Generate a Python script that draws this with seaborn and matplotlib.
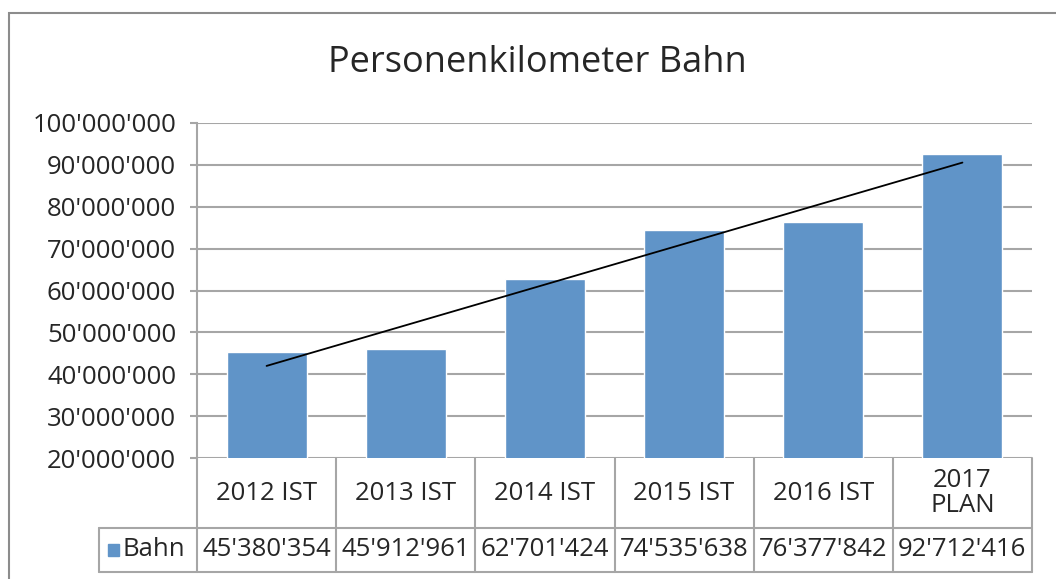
import numpy as np
import pandas as pd
import seaborn as sns
import matplotlib.pyplot as plt
from matplotlib.patches import Rectangle
import matplotlib.transforms as mtransforms

# Data
categories = ["2012 IST", "2013 IST", "2014 IST", "2015 IST", "2016 IST", "2017\nPLAN"]
bahn = [45380354, 45912961, 62701424, 74535638, 76377842, 92712416]
series_name = "Bahn"
yticks = [20000000, 30000000, 40000000, 50000000, 60000000, 70000000, 80000000, 90000000, 100000000]

bar_color = "#6094C8"
grid_color = "#A6A6A6"
fs = 18.5


def swiss(v):
    return f"{int(v):,}".replace(",", "'")


sns.set_theme(style="white")
plt.rcParams["font.family"] = ["Open Sans", "DejaVu Sans"]

df = pd.DataFrame({"cat": categories, "val": bahn})

fig = plt.figure(figsize=(10.56, 5.79), dpi=100)
ax = fig.add_axes([197 / 1056, 1 - 458 / 579, (1032 - 197) / 1056, (458 - 123) / 579])

sns.barplot(data=df, x="cat", y="val", color=bar_color, saturation=1, width=0.575, ax=ax, zorder=3)

# linear trendline
xs = np.arange(len(bahn))
k, d = np.polyfit(xs, bahn, 1)
ax.plot(xs, k * xs + d, color="black", lw=1.3, zorder=4)

ax.set_xlim(-0.5, len(categories) - 0.5)
ax.set_ylim(20000000, 100000000)
ax.set_yticks(yticks)
ax.set_yticklabels([swiss(t) for t in yticks], fontsize=fs)
ax.yaxis.grid(True, color=grid_color, lw=1.5)
ax.set_axisbelow(True)
ax.tick_params(axis="y", length=5, color=grid_color, width=1.5, pad=10, left=True)
ax.set_xticks([])
ax.set_xlabel("")
ax.set_ylabel("")
for s in ["top", "right", "bottom"]:
    ax.spines[s].set_visible(False)
ax.spines["left"].set_color(grid_color)
ax.spines["left"].set_linewidth(1.5)

# data table under the axis
tr = mtransforms.blended_transform_factory(ax.transData, ax.transAxes)
r1 = -70 / 335
r2 = -114 / 335
xl = -0.5 - 98 / (835 / 6)
n = len(categories)
lkw = dict(color=grid_color, lw=1.5, transform=tr, clip_on=False)
for i in range(n + 1):
    ax.plot([i - 0.5, i - 0.5], [0, r2], **lkw)
ax.plot([xl, n - 0.5], [r1, r1], **lkw)
ax.plot([xl, n - 0.5], [r2, r2], **lkw)
ax.plot([xl, xl], [r1, r2], **lkw)

for i, (c, v) in enumerate(zip(categories, bahn)):
    ax.text(i, r1 / 2, c, transform=tr, ha="center", va="center", fontsize=fs,
            linespacing=1.05, clip_on=False)
    ax.text(i, (r1 + r2) / 2, swiss(v), transform=tr, ha="center", va="center",
            fontsize=fs, clip_on=False)

# legend key in table
ax.add_patch(Rectangle((xl + 0.065, (r1 + r2) / 2 - 0.017), 0.08, 0.036, transform=tr,
                       color=bar_color, clip_on=False))
ax.text(xl + 0.17, (r1 + r2) / 2, series_name, transform=tr, ha="left", va="center",
        fontsize=fs, clip_on=False)

fig.text(537 / 1056, 1 - 63 / 579, "Personenkilometer Bahn", ha="center", va="center", fontsize=26)

# outer chart border
fig.add_artist(Rectangle((9 / 1056, -0.05), 1.1, 1 - 13 / 579 + 0.05, transform=fig.transFigure,
                         fill=False, edgecolor="#8C8C8C", lw=1.5))

fig.savefig("out.png", dpi=100)
